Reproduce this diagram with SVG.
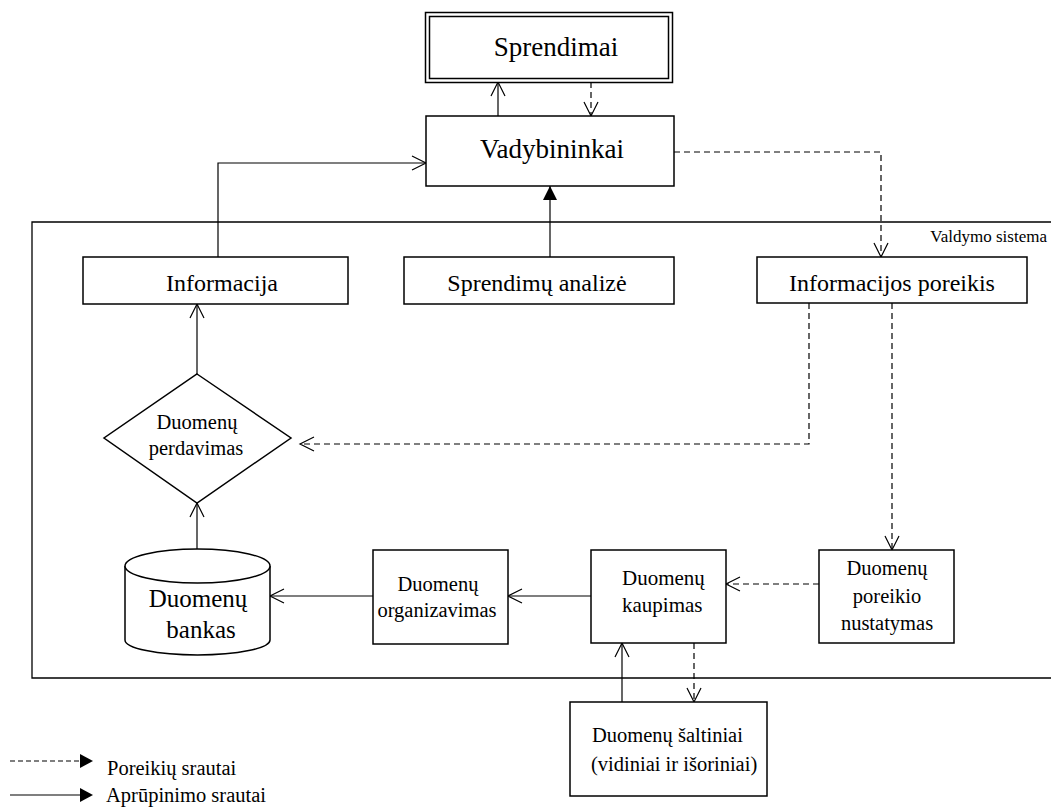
<svg xmlns="http://www.w3.org/2000/svg" width="1051" height="812" viewBox="0 0 1051 812">
  <style>
    .box { fill: #ffffff; stroke: #000000; stroke-width: 1.5; }
    .frame { fill: none; stroke: #000000; stroke-width: 1.3; }
    .t { font-family: "Liberation Serif", "Times New Roman", serif; fill: #000000; }
    .c { text-anchor: middle; }
    .solid { fill: none; stroke: #000000; stroke-width: 1.2; }
    .dash { fill: none; stroke: #000000; stroke-width: 1.2; stroke-dasharray: 6 4; }
    .legdash { fill: none; stroke: #000000; stroke-width: 1.2; stroke-dasharray: 5 3; }
  </style>
  <defs>
    <marker id="open" markerUnits="userSpaceOnUse" markerWidth="20" markerHeight="20" viewBox="-16 -10 20 20" refX="0" refY="0" orient="auto">
      <path d="M-14,-7 L0,0 L-14,7" fill="none" stroke="#000000" stroke-width="1.2" stroke-dasharray="none"/>
    </marker>
    <marker id="filled" markerUnits="userSpaceOnUse" markerWidth="20" markerHeight="20" viewBox="-16 -10 20 20" refX="0" refY="0" orient="auto">
      <path d="M-14,-7 L0,0 L-14,7 Z" fill="#000000" stroke="none"/>
    </marker>
  </defs>

  <rect width="1051" height="812" fill="#ffffff"/>

  <!-- management system frame (open on the right) -->
  <g id="valdymo-sistema">
    <path class="frame" d="M1051,222 H32 V678 H1051"/>
    <text class="t" x="1047" y="242" font-size="17" text-anchor="end">Valdymo sistema</text>
  </g>

  <g id="connectors">
    <line class="solid" x1="498" y1="116" x2="498" y2="82" marker-end="url(#open)"/>
    <line class="dash" x1="591" y1="82" x2="591" y2="116" marker-end="url(#open)"/>
    <path class="solid" d="M218,257 V163 H426" marker-end="url(#open)"/>
    <line class="solid" x1="550" y1="257" x2="550" y2="186" marker-end="url(#filled)"/>
    <path class="dash" d="M674,152 H881 V257" marker-end="url(#open)"/>
    <path class="dash" d="M809,303 V444 H300" marker-end="url(#open)"/>
    <line class="dash" x1="892" y1="303" x2="892" y2="550" marker-end="url(#open)"/>
    <line class="dash" x1="819" y1="584" x2="726" y2="584" marker-end="url(#open)"/>
    <line class="solid" x1="591" y1="596" x2="508" y2="596" marker-end="url(#open)"/>
    <line class="solid" x1="373" y1="596" x2="270" y2="596" marker-end="url(#open)"/>
    <line class="solid" x1="197" y1="549" x2="197" y2="503" marker-end="url(#open)"/>
    <line class="solid" x1="197" y1="374" x2="197" y2="304" marker-end="url(#open)"/>
    <line class="solid" x1="622" y1="702" x2="622" y2="643" marker-end="url(#open)"/>
    <line class="dash" x1="694" y1="643" x2="694" y2="702" marker-end="url(#open)"/>
  </g>

  <g id="sprendimai">
    <rect class="box" x="425.5" y="12.5" width="247" height="70" stroke-width="1.6"/>
    <rect class="box" x="429.5" y="16.5" width="239" height="62" stroke-width="1.2"/>
    <text class="t c" x="556" y="56" font-size="27">Sprendimai</text>
  </g>

  <g id="vadybininkai">
    <rect class="box" x="426" y="116" width="248" height="70"/>
    <text class="t c" x="552" y="158" font-size="27">Vadybininkai</text>
  </g>

  <g id="informacija">
    <rect class="box" x="83" y="257" width="265" height="47"/>
    <text class="t c" x="222" y="291" font-size="24">Informacija</text>
  </g>

  <g id="sprendimu-analize">
    <rect class="box" x="404" y="257" width="270" height="47"/>
    <text class="t c" x="537" y="291" font-size="24">Sprendimų analizė</text>
  </g>

  <g id="informacijos-poreikis">
    <rect class="box" x="757" y="257" width="270" height="46"/>
    <text class="t c" x="892" y="291" font-size="24">Informacijos poreikis</text>
  </g>

  <g id="duomenu-perdavimas">
    <polygon class="box" points="197,374 291,438 197,503 104,438"/>
    <text class="t c" x="197" y="429" font-size="20.5">Duomenų</text>
    <text class="t c" x="196" y="455" font-size="20.5">perdavimas</text>
  </g>

  <g id="duomenu-bankas">
    <path class="box" d="M125,566 V640 A72.5,15 0 0 0 270,640 V566"/>
    <ellipse class="box" cx="197.5" cy="566" rx="72.5" ry="17"/>
    <text class="t c" x="198" y="607" font-size="25">Duomenų</text>
    <text class="t c" x="201" y="638" font-size="25">bankas</text>
  </g>

  <g id="duomenu-organizavimas">
    <rect class="box" x="373" y="550" width="135" height="94"/>
    <text class="t c" x="438" y="591" font-size="20.5">Duomenų</text>
    <text class="t c" x="437" y="617" font-size="20.5">organizavimas</text>
  </g>

  <g id="duomenu-kaupimas">
    <rect class="box" x="591" y="550" width="135" height="93"/>
    <text class="t" x="622" y="585" font-size="21">Duomenų</text>
    <text class="t" x="622" y="612" font-size="21">kaupimas</text>
  </g>

  <g id="duomenu-poreikio-nustatymas">
    <rect class="box" x="819" y="550" width="135" height="93"/>
    <text class="t c" x="887" y="575" font-size="20.5">Duomenų</text>
    <text class="t c" x="887" y="603" font-size="20.5">poreikio</text>
    <text class="t c" x="887" y="630" font-size="20.5">nustatymas</text>
  </g>

  <g id="duomenu-saltiniai">
    <rect class="box" x="570" y="702" width="197" height="94"/>
    <text class="t" x="592" y="742" font-size="20.5">Duomenų šaltiniai</text>
    <text class="t" x="591" y="771" font-size="20.5">(vidiniai ir išoriniai)</text>
  </g>

  <g id="legend">
    <line class="legdash" x1="10" y1="761" x2="80" y2="761"/>
    <path d="M80,754 L93,761 L80,768 Z" fill="#000000"/>
    <text class="t" x="107" y="775" font-size="20.5">Poreikių srautai</text>
    <line class="solid" x1="10" y1="795" x2="80" y2="795"/>
    <path d="M80,788 L93,795 L80,802 Z" fill="#000000"/>
    <text class="t" x="106" y="802" font-size="20.5">Aprūpinimo srautai</text>
  </g>
</svg>
